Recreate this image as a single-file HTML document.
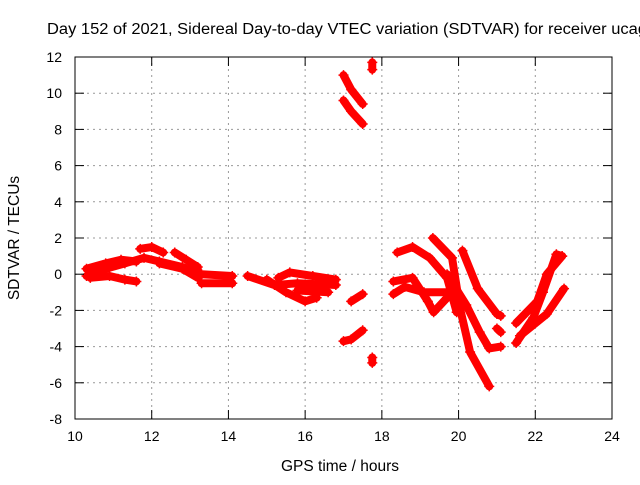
<!DOCTYPE html>
<html><head><meta charset="utf-8"><style>
body{margin:0;background:#fff;width:640px;height:480px;overflow:hidden}
svg{font-family:"Liberation Sans",sans-serif;font-size:14px}
</style></head><body>
<svg id="chart" width="640" height="480">
<text x="47" y="34" style="font-size:15.5px" textLength="600" lengthAdjust="spacingAndGlyphs">Day 152 of 2021, Sidereal Day-to-day VTEC variation (SDTVAR) for receiver ucag</text>
<g id="grid"></g>
<g id="series"></g>
<rect x="75" y="57" width="537" height="362" fill="none" stroke="#000"/>
<g id="axes"></g>
<text x="340" y="471" text-anchor="middle" style="font-size:15.5px">GPS time / hours</text>
<text transform="translate(19,238) rotate(-90)" text-anchor="middle" style="font-size:15.5px">SDTVAR / TECUs</text>
</svg>
<script>
const xTicks=[10,12,14,16,18,20,22,24];
const yTicks=[-8,-6,-4,-2,0,2,4,6,8,10,12];
const tracks=[
[[10.3,-0.1],[10.8,0.3],[11.3,0.6],[11.8,0.9],[12.2,0.7],[12.8,0.4],[13.2,0.0]],
[[10.3,0.3],[10.8,0.6],[11.2,0.8],[11.6,0.7]],
[[10.4,-0.2],[10.9,-0.1],[11.3,-0.3],[11.6,-0.4]],
[[11.7,1.4],[12.0,1.5],[12.3,1.2]],
[[12.6,1.2],[12.9,0.8],[13.2,0.4],[13.2,-0.2]],
[[12.2,0.6],[12.8,0.3],[13.2,-0.2]],
[[13.3,0.0],[14.1,-0.1]],
[[13.3,-0.5],[14.1,-0.5]],
[[14.5,-0.1],[15.2,-0.6],[15.8,-0.5],[16.8,-0.6]],
[[15.3,-0.2],[15.6,0.1],[16.2,-0.1],[16.8,-0.3]],
[[15.0,-0.3],[15.5,-1.0],[16.0,-1.5],[16.3,-1.3]],
[[15.8,-0.9],[16.6,-1.0]],
[[17.0,11.0],[17.2,10.2],[17.5,9.4]],
[[17.0,9.6],[17.2,9.0],[17.5,8.3]],
[[17.75,11.7],[17.75,11.3]],
[[17.75,-4.6],[17.75,-4.9]],
[[17.0,-3.7],[17.2,-3.6],[17.5,-3.1]],
[[17.2,-1.5],[17.5,-1.1]],
[[19.33,2.0],[19.83,0.9],[20.04,-1.9],[20.3,-4.3],[20.8,-6.2]],
[[20.1,1.3],[20.5,-0.8],[21.0,-2.2],[21.1,-2.3]],
[[19.7,0],[20.2,-1.7],[20.55,-3.2],[20.8,-4.1],[21.1,-4.0]],
[[18.4,1.2],[18.8,1.5],[19.25,0.9],[19.7,-0.2],[19.95,-2.1]],
[[18.3,-0.4],[18.8,-0.2],[19.2,-1.5],[19.35,-2.1],[19.7,-1.3]],
[[18.3,-1.1],[18.6,-0.7],[19.1,-1.0],[19.7,-1.0],[19.95,-1.5]],
[[21.0,-3.0],[21.1,-3.2]],
[[21.5,-3.8],[21.95,-2.4],[22.2,-1.0],[22.55,1.1],[22.7,1.0]],
[[21.5,-2.7],[22.05,-1.5],[22.3,0],[22.7,1.0]],
[[21.6,-3.4],[22.3,-2.2],[22.75,-0.8]]
];
const NS='http://www.w3.org/2000/svg';
const X=h=>75+(h-10)*537/14, Y=v=>419-(v+8)*362/20;
const grid=document.getElementById('grid'),axes=document.getElementById('axes'),ser=document.getElementById('series');
function mk(t,a,p){const e=document.createElementNS(NS,t);for(const k in a)e.setAttribute(k,a[k]);p.appendChild(e);return e;}
xTicks.forEach(t=>{const x=X(t);
 if(t>10&&t<24){const g=mk('line',{x1:x,x2:x,y1:57,y2:419,stroke:'#999','stroke-dasharray':'2,4'},grid);
 
 }
 mk('line',{x1:x,x2:x,y1:419,y2:410,stroke:'#000'},axes);mk('line',{x1:x,x2:x,y1:57,y2:66,stroke:'#000'},axes);
 const l=mk('text',{x:x,y:441,'text-anchor':'middle'},axes);l.textContent=t;
 
 });
yTicks.forEach(t=>{const y=Y(t);
 if(t>-8&&t<12){const g=mk('line',{x1:75,x2:612,y1:y,y2:y,stroke:'#999','stroke-dasharray':'2,4'},grid);
 
 }
 mk('line',{x1:75,x2:84,y1:y,y2:y,stroke:'#000'},axes);mk('line',{x1:612,x2:603,y1:y,y2:y,stroke:'#000'},axes);
 const l=mk('text',{x:62,y:y+5,'text-anchor':'end'},axes);l.textContent=t;
 
 });
tracks.forEach(tr=>{
 const p=mk('polyline',{points:tr.map(d=>X(d[0])+','+Y(d[1])).join(' '),fill:'none',stroke:'#f00','stroke-width':8,'stroke-linejoin':'round','stroke-linecap':'round'},ser);
 
 
 tr.forEach(d=>{const x=X(d[0]),y=Y(d[1]);
  mk('path',{d:`M${x-5},${y}H${x+5}M${x},${y-5}V${y+5}`,stroke:'#f00','stroke-width':1.5},ser);});
});
</script>
</body></html>
